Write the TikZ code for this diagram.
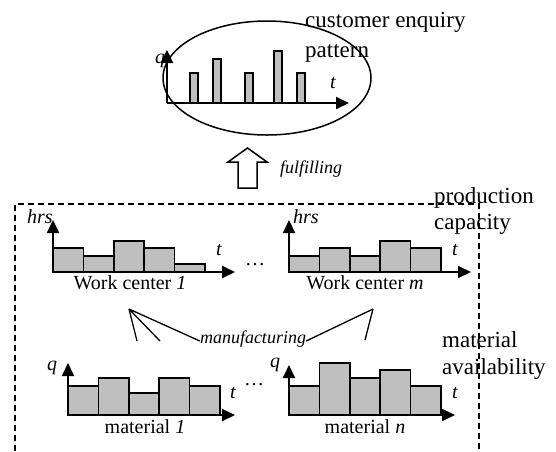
\documentclass[tikz,border=0pt]{standalone}
\usepackage{fontspec}
\setmainfont{Liberation Serif}
\usetikzlibrary{arrows.meta,calc}
\definecolor{BarClr}{gray}{0.75}

% one histogram: origin x, origin y, top of q-axis, end of t-axis, bar tops
\newcommand{\BarChart}[5]{%
  \foreach \h [count=\i from 0] in {#5}
    \draw[bar] ({#1+\i*30.4},#2) rectangle ({#1+(\i+1)*30.4},\h);
  \draw[axis] (#1,#2) -- (#1,#3);
  \draw[axis] (#1,#2) -- (#4,#2);
}

\begin{document}
\begin{tikzpicture}[x=1pt,y=-1pt,
  axis/.style={line width=2pt,-{Triangle[length=13pt,width=12pt]}},
  bar/.style={line width=1.6pt,fill=BarClr},
  spike/.style={line width=1.4pt,fill=BarClr},
  big/.style={font=\fontsize{23}{28}\selectfont,align=left,inner sep=0pt},
  lbl/.style={font=\fontsize{20}{24}\selectfont,inner sep=0pt},
  var/.style={font=\fontsize{20}{24}\selectfont\itshape,inner sep=0pt},
  verb/.style={font=\fontsize{18}{22}\selectfont\itshape,inner sep=0pt}]
\useasboundingbox (0,0) rectangle (556,451);

% enquiry pattern
\draw[line width=1.5pt] (267,78) ellipse [x radius=104, y radius=57];
\foreach \x/\h in {190/73,213/59,245/73,274/51,297/73}
  \draw[spike] (\x,103) rectangle (\x+8,\h);
\draw[axis] (167,103) -- (167,50);
\draw[axis] (167,103) -- (349,103);
\node[var] (qtop) at (160,61) {q};
\node[var] (ttop) at (333,83) {t};
% base anchor sits on the last line
\node[big,anchor=base west] (enquiry) at (305,57) {customer enquiry\\[2pt]pattern};

% fulfilling arrow
\draw[line width=1.5pt,fill=white] (238,188) -- (238,162) -- (228,162) -- (247.5,148)
  -- (267,162) -- (257,162) -- (257,188) -- cycle;
\node[verb,anchor=base west] (fulfil) at (280,173) {fulfilling};

% capacity frame
\draw[line width=1.5pt,dash pattern=on 6pt off 4pt] (15,451) -- (15,204) -- (479,204) -- (479,451);
\node[big,anchor=base west] (capacity) at (434,229) {production\\[-2pt]capacity};
\node[big,anchor=base west] (avail) at (442,374) {material\\[-1pt]availability};

% work centers
\BarChart{53}{272}{220}{235}{248,256,241,248,264}
\BarChart{289}{272}{220}{471}{256,248,256,241,248}
\node[var,anchor=base west] (hrs1) at (27,223) {hrs};
\node[var,anchor=base west] (hrsm) at (293,223) {hrs};
\node[var] (t1) at (219,250) {t};
\node[var] (tm) at (455,250) {t};
\node[lbl,anchor=base] (dots1) at (255,265) {\dots};
\node[lbl,anchor=base] (wc1) at (130,289) {Work center \textit{1}};
\node[lbl,anchor=base] (wcm) at (365,289) {Work center \textit{m}};

% materials
\BarChart{68}{415}{363}{235}{386,378,393,378,386}
\BarChart{289}{415}{365}{455}{386,363,378,370,386}
\node[var] (q1) at (52,368) {q};
\node[var] (qn) at (275,365) {q};
\node[var,anchor=base] (t2) at (233,398) {t};
\node[var] (tn) at (455,393) {t};
\node[lbl,anchor=base] (dots2) at (254,385) {\dots};
\node[lbl,anchor=base] (mat1) at (145,433) {material \textit{1}};
\node[lbl,anchor=base] (matn) at (365,433) {material \textit{n}};

% manufacturing links
\node[verb,anchor=base] (manuf) at (253,343) {manufacturing};
\coordinate (a1) at (129,309);
\coordinate (am) at (373,309);
\draw[line width=1.3pt] (a1) -- (137,341) (a1) -- (160,341) (a1) -- (manuf.west|-190,341);
\draw[line width=1.3pt] (am) -- (365,340) (am) -- (manuf.east|-319,341);
\end{tikzpicture}
\end{document}
